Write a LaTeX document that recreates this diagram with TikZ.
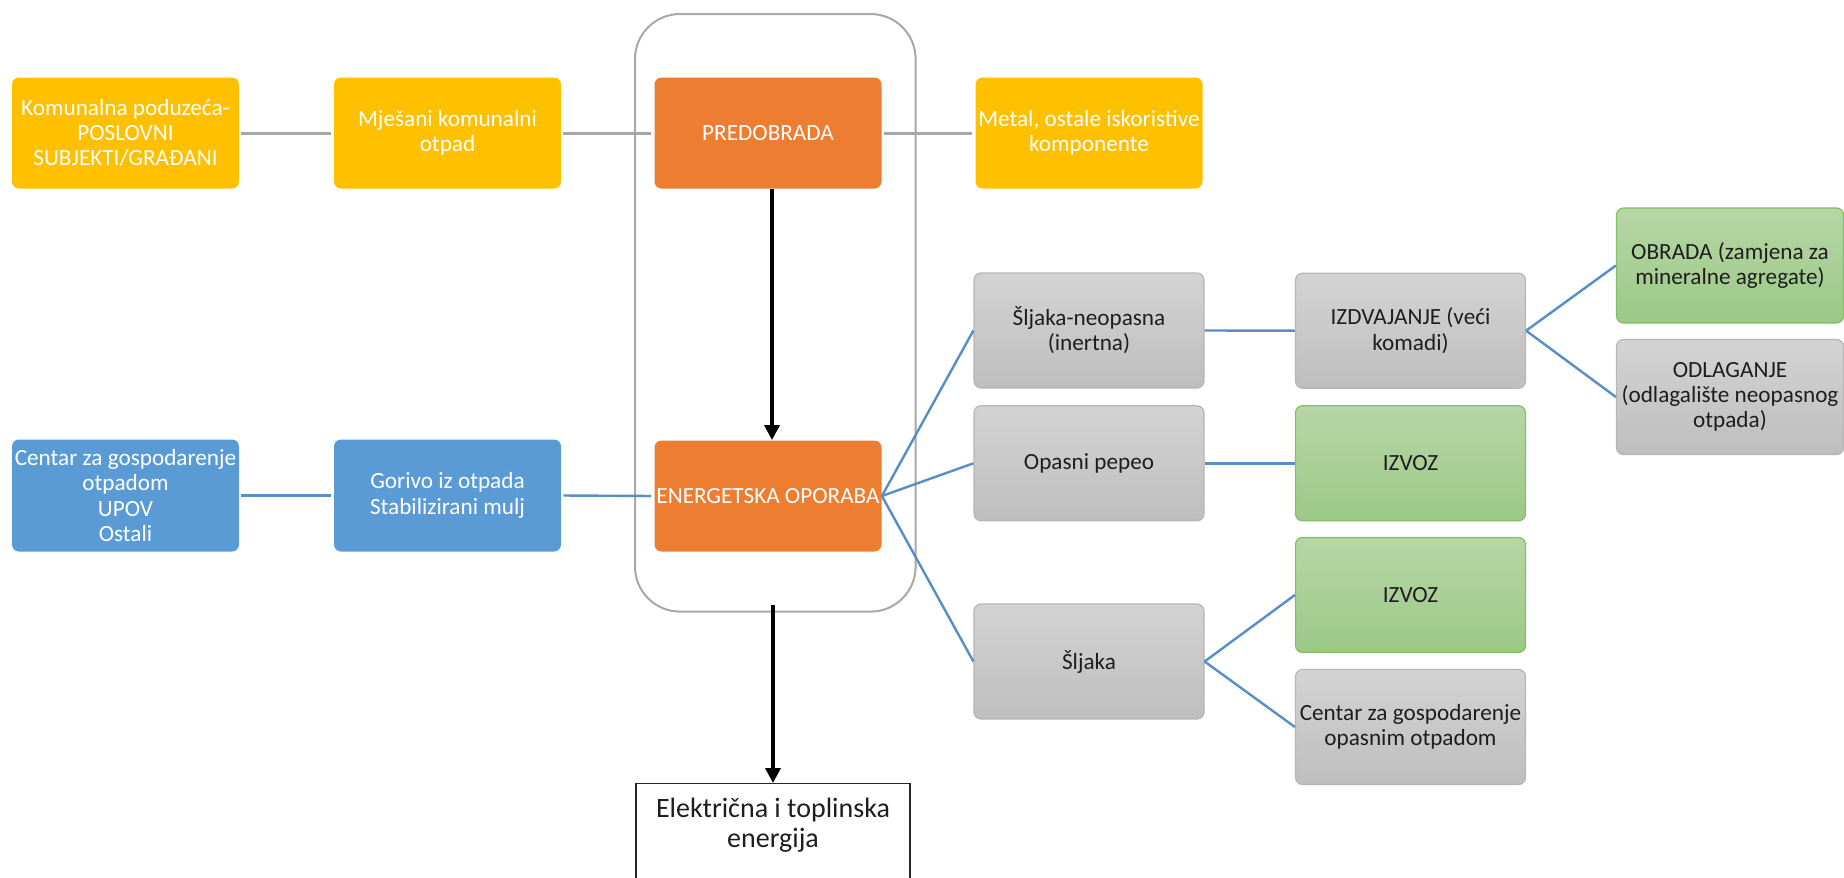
\documentclass[tikz,border=0pt]{standalone}
\usepackage{fontspec}
\setmainfont{Carlito}
\usetikzlibrary{arrows.meta}
\definecolor{yel}{HTML}{FFC000}
\definecolor{org}{HTML}{ED7D31}
\definecolor{blu}{HTML}{5B9BD5}
\definecolor{lineblue}{RGB}{88,142,200}
\definecolor{linegray}{HTML}{A6A6A6}
\definecolor{contgray}{HTML}{A8A8A8}
\definecolor{grT}{RGB}{211,211,211}
\definecolor{grB}{RGB}{190,190,190}
\definecolor{grD}{RGB}{182,182,182}
\definecolor{gnT}{RGB}{182,214,166}
\definecolor{gnB}{RGB}{156,200,134}
\definecolor{gnD}{RGB}{132,190,102}
\definecolor{txt}{HTML}{1E1E1E}
\begin{document}
\begin{tikzpicture}[x=0.5pt,y=-0.5pt,
  base/.style={rounded corners=3.5pt, minimum width=113.5pt, minimum height=55.5pt,
    inner sep=0.5pt, align=center, font=\fontsize{11.6}{12.6}\selectfont},
  ybox/.style={base, fill=yel, text=white},
  obox/.style={base, fill=org, text=white},
  bbox/.style={base, fill=blu, text=white, minimum height=56pt},
  graybox/.style={base, top color=grT, bottom color=grB, draw=grD, line width=0.6pt,
    text=txt, minimum width=115pt, minimum height=57.5pt},
  greenbox/.style={base, top color=gnT, bottom color=gnB, draw=gnD, line width=0.6pt,
    text=txt, minimum width=115pt, minimum height=57.5pt},
  gline/.style={draw=linegray, line width=1.5pt},
  bline/.style={draw=lineblue, line width=1.2pt},
  arr/.style={draw=black, line width=1.8pt, -{Triangle[width=7.5pt,length=7.5pt]}}
]
\useasboundingbox (0,0) rectangle (1844,878);
\fill[white] (0,0) rectangle (1844,878);

% container
\node[draw=contgray, line width=1pt, rounded corners=22.5pt,
      minimum width=140.3pt, minimum height=298.8pt, inner sep=0pt] (cont) at (775.3,312.8) {};

% top row
\node[ybox] (kom) at (125.5,133) {Komunalna poduzeća-\\POSLOVNI\\SUBJEKTI/GRAĐANI};
\node[ybox] (mje) at (447.5,133) {Mješani komunalni\\otpad};
\node[obox] (pre) at (768,133) {PREDOBRADA};
\node[ybox] (met) at (1089,133) {Metal, ostale iskoristive\\komponente};

% middle row
\node[bbox] (cen) at (125.5,495.5) {Centar za gospodarenje\\otpadom\\UPOV\\Ostali};
\node[bbox] (gor) at (447.5,495.5) {Gorivo iz otpada\\Stabilizirani mulj};
\node[obox, minimum height=55.5pt] (ene) at (768,496) {ENERGETSKA OPORABA};

% right part
\node[graybox] (sne) at (1089,330.5) {Šljaka-neopasna\\(inertna)};
\node[graybox] (opa) at (1089,463.3) {Opasni pepeo};
\node[graybox] (slj) at (1089,661.5) {Šljaka};
\node[graybox] (izd) at (1410.5,330.7) {IZDVAJANJE (veći\\komadi)};
\node[greenbox] (izv1) at (1410.5,463.3) {IZVOZ};
\node[greenbox] (izv2) at (1410.5,595) {IZVOZ};
\node[graybox] (cgo) at (1410.5,727) {Centar za gospodarenje\\opasnim otpadom};
\node[greenbox, minimum width=113.5pt] (obr) at (1730,265.5) {OBRADA (zamjena za\\mineralne agregate)};
\node[graybox, minimum width=113.5pt] (odl) at (1730,397) {ODLAGANJE\\(odlagalište neopasnog\\otpada)};

% energy box
\node[draw=black!85, line width=0.6pt, minimum width=137pt, minimum height=60pt,
      inner sep=0pt, anchor=north] (ele) at (773,783) {};
\node[font=\fontsize{14}{15}\selectfont, align=center, text=txt, inner sep=0pt]
      (eletxt) at (773,825) {Električna i toplinska\\energija};

% grey connectors
\draw[gline, shorten <=1pt, shorten >=1.5pt] (kom.east) -- (mje.west);
\draw[gline, shorten <=1pt, shorten >=1.5pt] (mje.east) -- (pre.west);
\draw[gline, shorten <=1pt, shorten >=1.5pt] (pre.east) -- (met.west);

% blue connectors
\draw[bline, shorten <=1pt, shorten >=1.5pt] (cen.east) -- (gor.west);
\draw[bline, shorten <=1pt, shorten >=1.5pt] (gor.east) -- (ene.west);
\draw[bline] (ene.east) -- (sne.west);
\draw[bline] (ene.east) -- (opa.west);
\draw[bline] (ene.east) -- (slj.west);
\draw[bline] (sne.east) -- (izd.west);
\draw[bline] (opa.east) -- (izv1.west);
\draw[bline] (izd.east) -- (obr.west);
\draw[bline] (izd.east) -- (odl.west);
\draw[bline] (slj.east) -- (izv2.west);
\draw[bline] (slj.east) -- (cgo.west);

% arrows
\draw[arr] ([xshift=2pt]pre.south) -- ([xshift=2pt]ene.north);
\coordinate (a2) at ([yshift=3.85pt]cont.south);
\draw[arr] (a2 -| ele.north) -- (ele.north);
\end{tikzpicture}
\end{document}
